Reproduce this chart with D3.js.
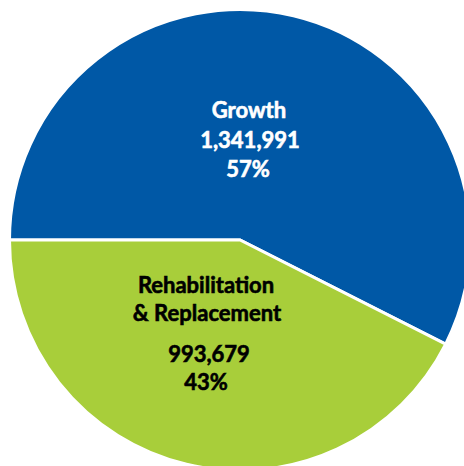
<!DOCTYPE html>
<html>
<head>
<meta charset="utf-8">
<script src="https://cdn.jsdelivr.net/npm/d3@7"></script>
<style>
  html, body { margin: 0; padding: 0; background: #fff; }
  svg { display: block; }
  text { font-family: Lato, "Open Sans", sans-serif; font-weight: 700; }
</style>
</head>
<body>
<svg id="chart" width="464" height="466"></svg>
<script>
// Funding split by program category
const categories = ["Growth", "Rehabilitation & Replacement"];
const values = [1341991, 993679];
const percents = ["57%", "43%"];
const colors = ["#0058A6", "#A8CE3A"];
const labelColors = ["#ffffff", "#000000"];

const svg = d3.select("#chart");
const cx = 240, cy = 240, radius = 230.5;

const data = categories.map((c, i) => ({ name: c, value: values[i], pct: percents[i], i }));

const pie = d3.pie()
  .sort(null)
  .value(d => d.value)
  .startAngle(-Math.PI / 2)
  .endAngle(1.5 * Math.PI);

const arc = d3.arc().innerRadius(0).outerRadius(radius);

const g = svg.append("g").attr("transform", `translate(${cx},${cy})`);

g.selectAll("path")
  .data(pie(data))
  .join("path")
  .attr("d", arc)
  .attr("fill", d => colors[d.data.i])
  .attr("stroke", "#ffffff")
  .attr("stroke-width", 3)
  .attr("stroke-linejoin", "miter");

// Label blocks: lines with positions relative to the pie centre
const fmt = d3.format(",");
const labelLines = [
  [
    { t: categories[0], x: 9, y: -122 },
    { t: fmt(values[0]), x: 10, y: -92 },
    { t: percents[0], x: 8, y: -63 }
  ],
  [
    { t: "Rehabilitation", x: -34, y: 53 },
    { t: "& Replacement", x: -33, y: 81 },
    { t: fmt(values[1]), x: -31, y: 122 },
    { t: percents[1], x: -34, y: 150 }
  ]
];

labelLines.forEach((lines, i) => {
  g.append("g")
    .selectAll("text")
    .data(lines)
    .join("text")
    .attr("x", d => d.x)
    .attr("y", d => d.y)
    .attr("text-anchor", "middle")
    .attr("font-size", 22)
    .attr("fill", labelColors[i])
    .attr("stroke", labelColors[i])
    .attr("stroke-width", 0.6)
    .attr("paint-order", "stroke")
    .text(d => d.t);
});
</script>
</body>
</html>
